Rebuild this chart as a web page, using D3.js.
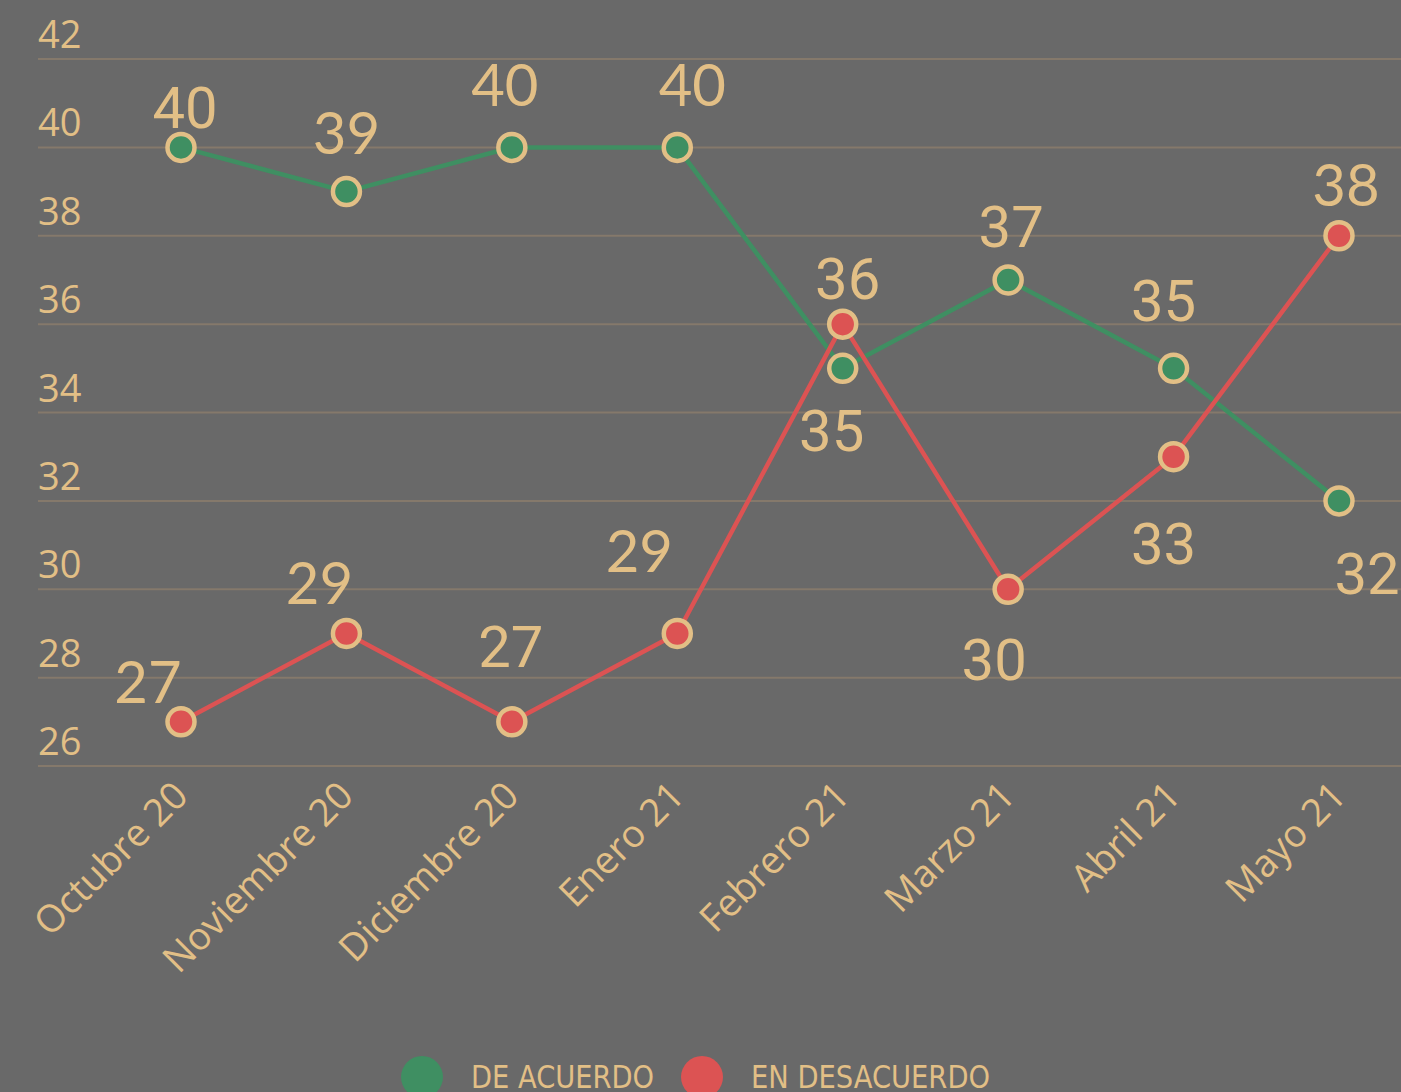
<!DOCTYPE html>
<html>
<head>
<meta charset="utf-8">
<script src="https://cdn.jsdelivr.net/npm/d3@7"></script>
<style>
  html, body { margin: 0; padding: 0; background: #696969; overflow: hidden; }
  svg { display: block; }
</style>
</head>
<body>
<svg id="chart" width="1401" height="1092"></svg>
<script>
// ---- data ----
const categories = ["Octubre 20", "Noviembre 20", "Diciembre 20", "Enero 21", "Febrero 21", "Marzo 21", "Abril 21", "Mayo 21"];
const deAcuerdo = [40, 39, 40, 40, 35, 37, 35, 32];
const enDesacuerdo = [27, 29, 27, 29, 36, 30, 33, 38];
const yTicks = [26, 28, 30, 32, 34, 36, 38, 40, 42];
const seriesNames = ["DE ACUERDO", "EN DESACUERDO"];

// label placement (dx, dy relative to point) and weight style
const greenLabelOffsets = [[4,-19],[0,-38],[-7,-41],[15,-41],[-11,83],[3,-33],[-10,-47],[28,93]];
const redLabelOffsets = [[-33,-19],[-27,-29],[-1,-55],[-38,-61],[5,-25],[-14,91],[-10,107],[7,-30]];
const greenLabelBold = [true,false,false,false,true,true,true,true];
const redLabelBold = [false,false,true,false,true,true,true,false];

// ---- style ----
const BG = "#696969", TAN = "#e2bf86", GREEN = "#3f8f62", RED = "#dc5353", GRID = "#85796b";

const svg = d3.select("#chart");
svg.append("rect").attr("width", 1401).attr("height", 1092).attr("fill", BG);

const x = d3.scalePoint().domain(categories).range([181, 1339]);
const y = d3.scaleLinear().domain([26, 42]).range([766, 59]);

// gridlines + y tick labels
const yAxis = svg.append("g");
yAxis.selectAll("line").data(yTicks).join("line")
  .attr("x1", 38).attr("x2", 1401)
  .attr("y1", d => y(d)).attr("y2", d => y(d))
  .attr("stroke", GRID).attr("stroke-width", 2);
yAxis.selectAll("text").data(yTicks).join("text")
  .attr("x", 38).attr("y", d => y(d) - 11)
  .attr("fill", TAN)
  .attr("font-family", "'Open Sans', 'Noto Sans', sans-serif")
  .attr("font-size", 38)
  .text(d => d);

// x labels
svg.append("g").selectAll("text").data(categories).join("text")
  .attr("transform", d => `translate(${x(d) + 9},${798}) rotate(-45)`)
  .attr("text-anchor", "end")
  .attr("fill", TAN)
  .attr("font-family", "'Open Sans', 'Noto Sans', sans-serif")
  .attr("font-size", 38)
  .text(d => d);

const line = d3.line().x((d, i) => x(categories[i])).y(d => y(d));

svg.append("path").datum(deAcuerdo).attr("d", line)
  .attr("fill", "none").attr("stroke", GREEN).attr("stroke-width", 4.5).attr("stroke-linejoin", "round");
svg.append("path").datum(enDesacuerdo).attr("d", line)
  .attr("fill", "none").attr("stroke", RED).attr("stroke-width", 4.5).attr("stroke-linejoin", "round");

function points(data, color) {
  svg.append("g").selectAll("circle").data(data).join("circle")
    .attr("cx", (d, i) => x(categories[i])).attr("cy", d => y(d))
    .attr("r", 13.5).attr("fill", color)
    .attr("stroke", TAN).attr("stroke-width", 4.5);
}
points(deAcuerdo, GREEN);
points(enDesacuerdo, RED);

function labels(data, offsets, bold) {
  svg.append("g").selectAll("text").data(data).join("text")
    .attr("x", (d, i) => x(categories[i]) + offsets[i][0])
    .attr("y", (d, i) => y(d) + offsets[i][1])
    .attr("text-anchor", "middle")
    .attr("fill", TAN)
    .attr("font-family", (d, i) => bold[i] ? "Roboto, sans-serif" : "Lato, sans-serif")
    .attr("font-weight", 400)
    .attr("font-size", 58)
    .text(d => d);
}
labels(deAcuerdo, greenLabelOffsets, greenLabelBold);
labels(enDesacuerdo, redLabelOffsets, redLabelBold);

// legend
const legendColors = [GREEN, RED];
const legendX = [422, 702];
const legendW = [183, 239];
const lg = svg.append("g");
seriesNames.forEach((name, i) => {
  lg.append("circle").attr("cx", legendX[i]).attr("cy", 1077).attr("r", 21).attr("fill", legendColors[i]);
  lg.append("text").attr("x", legendX[i] + 49).attr("y", 1088)
    .attr("fill", TAN)
    .attr("font-family", "'Liberation Sans Narrow', 'DejaVu Sans Condensed', sans-serif")
    .attr("font-size", 32)
    .attr("textLength", legendW[i]).attr("lengthAdjust", "spacingAndGlyphs")
    .text(name);
});
</script>
</body>
</html>
